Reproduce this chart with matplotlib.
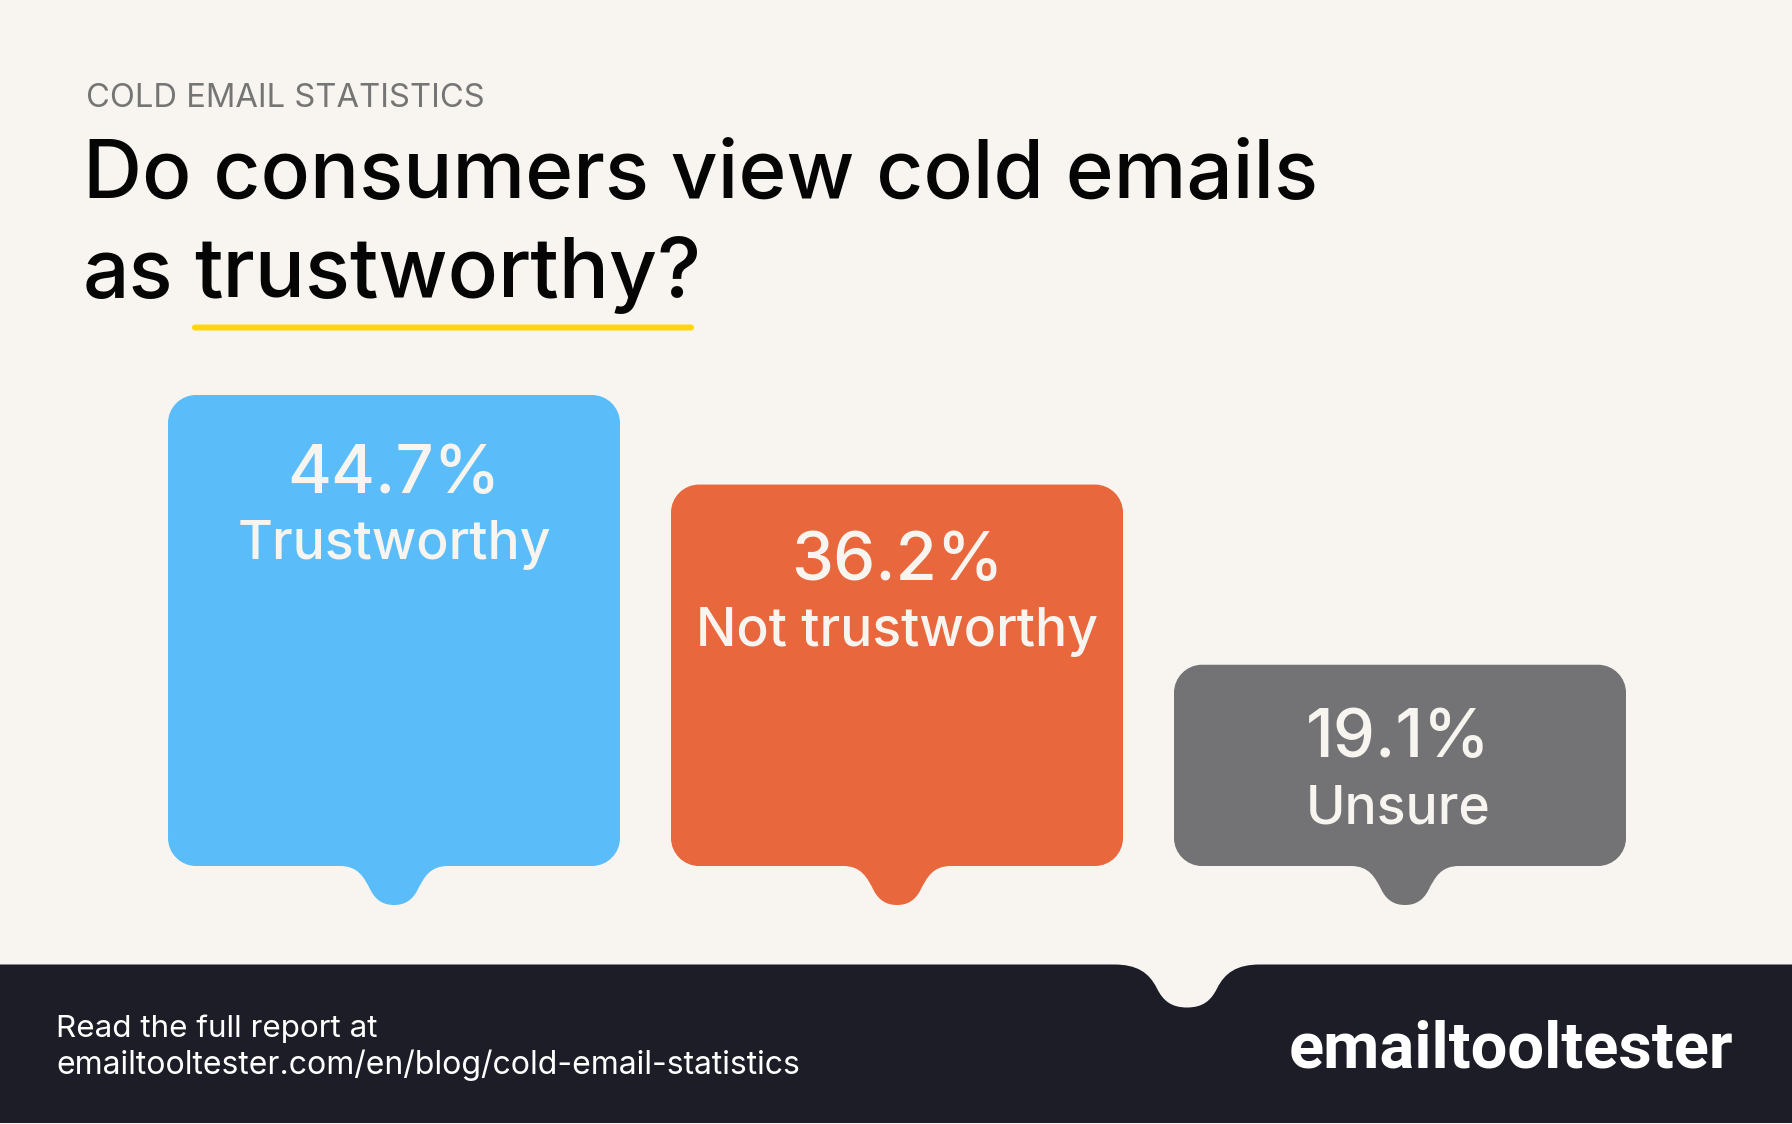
#!/usr/bin/env python3
import matplotlib
matplotlib.use("Agg")
import matplotlib.pyplot as plt
from matplotlib.patches import PathPatch, FancyBboxPatch
from matplotlib.path import Path

# ── DATA ──────────────────────────────────────────────────────────────────────
categories = ["Trustworthy", "Not trustworthy", "Unsure"]
values = [44.7, 36.2, 19.1]
value_labels = ["44.7%", "36.2%", "19.1%"]
bar_colors = ["#5ABDF9", "#E9673D", "#737375"]
tab_shift_px = [0, 0, 5]     # third tab sits a little right of centre

kicker = "COLD EMAIL STATISTICS"
title_line1 = "Do consumers view cold emails"
title_line2_a = "as"
title_line2_b = "trustworthy?"
footer_line1 = "Read the full report at"
footer_line2 = "emailtooltester.com/en/blog/cold-email-statistics"
logo_text = "emailtooltester"

# ── LAYOUT (pixels) ───────────────────────────────────────────────────────────
W, H = 1792, 1124
BG = "#F8F5F0"
DARK = "#1C1D27"
FONT = "Inter"

PX_PER_UNIT = 471 / 44.7
BASE_Y = 866
PITCH = 503
BAR_W = 452
FIRST_X = 394
# label baselines below each bar top, and small horizontal nudge
value_drop = [98, 95, 92]
name_drop = [164, 161, 159]
label_nudge = [0, 0, -2]


def pt(px):
    return px * 0.72


def bar_path(x, value, sx, sy, shift):
    """Rounded bar with a small drip below the baseline, in data units."""
    hw = BAR_W / 2 * sx
    r_x, r_y = 28 * sx, 28 * sy
    k = 0.45
    c = x + shift * sx
    verts = [(x - hw, r_y), (x - hw, value - r_y)]
    codes = [Path.MOVETO, Path.LINETO]
    verts += [(x - hw, value - r_y * k), (x - hw + r_x * k, value), (x - hw + r_x, value)]
    codes += [Path.CURVE4] * 3
    verts += [(x + hw - r_x, value)]
    codes += [Path.LINETO]
    verts += [(x + hw - r_x * k, value), (x + hw, value - r_y * k), (x + hw, value - r_y)]
    codes += [Path.CURVE4] * 3
    verts += [(x + hw, r_y)]
    codes += [Path.LINETO]
    verts += [(x + hw, r_y * k), (x + hw - r_x * k, 0), (x + hw - r_x, 0)]
    codes += [Path.CURVE4] * 3
    # drip, right to left
    drip = [(54, 0), (36, 0), (30, 11), (23, 25), (18, 34), (11, 39), (0, 39),
            (-11, 39), (-18, 34), (-23, 25), (-30, 11), (-36, 0), (-54, 0)]
    verts += [(c + drip[0][0] * sx, 0)]
    codes += [Path.LINETO]
    for dx, dy in drip[1:]:
        verts.append((c + dx * sx, -dy * sy))
        codes.append(Path.CURVE4)
    verts += [(x - hw + r_x, 0)]
    codes += [Path.LINETO]
    verts += [(x - hw + r_x * k, 0), (x - hw, r_y * k), (x - hw, r_y)]
    codes += [Path.CURVE4] * 3
    verts += [(x - hw, r_y)]
    codes += [Path.CLOSEPOLY]
    return Path(verts, codes)


def footer_path():
    top, bottom = 964.5, 1123
    c = 1187
    notch = [(-73, 0), (-50, 0), (-38, 8), (-30, 24), (-24, 36), (-16, 43), (0, 43),
             (16, 43), (24, 36), (30, 24), (38, 8), (50, 0), (73, 0)]
    verts = [(0, top), (c + notch[0][0], top)]
    codes = [Path.MOVETO, Path.LINETO]
    for dx, dy in notch[1:]:
        verts.append((c + dx, top + dy))
        codes.append(Path.CURVE4)
    verts += [(W, top), (W, bottom), (0, bottom), (0, top)]
    codes += [Path.LINETO, Path.LINETO, Path.LINETO, Path.CLOSEPOLY]
    return Path(verts, codes)


plt.rcParams["font.family"] = [FONT, "DejaVu Sans"]
fig = plt.figure(figsize=(W / 100, H / 100), dpi=100, facecolor=BG)

# page axes in pixel coordinates for headline and footer
page = fig.add_axes([0, 0, 1, 1])
page.set_xlim(0, W)
page.set_ylim(H, 0)
page.axis("off")

page.text(86, 107, kicker, fontsize=pt(32.7), color="#757575", va="baseline")
page.text(83, 198, title_line1, fontsize=pt(81.8), color="#050505", va="baseline", fontweight="medium")
page.text(83, 297, title_line2_a, fontsize=pt(81.8), color="#050505", va="baseline", fontweight="medium")
page.text(194, 297, title_line2_b, fontsize=pt(83.5), color="#050505", va="baseline", fontweight="medium")
page.add_patch(FancyBboxPatch((192, 324.5), 502, 6, boxstyle="round,pad=0,rounding_size=3",
                              fc="#FFD60A", ec="none"))

page.add_patch(PathPatch(footer_path(), fc=DARK, ec="none"))
page.text(56, 1037, footer_line1, fontsize=pt(31.4), color="white", va="baseline")
page.text(56, 1074, footer_line2, fontsize=pt(32), color="white", va="baseline")
page.text(1733, 1067, logo_text, fontsize=pt(65), color="white", va="baseline", ha="right",
          fontweight="semibold", family=["Roboto", "DejaVu Sans"])

# bar axes: x in category positions, y in percent
x_left = FIRST_X - PITCH / 2
y_max = 50
ax = fig.add_axes([x_left / W, (H - BASE_Y) / H, 3 * PITCH / W, y_max * PX_PER_UNIT / H])
ax.set_xlim(-0.5, 2.5)
ax.set_ylim(0, y_max)
ax.axis("off")
sx = 1 / PITCH
sy = 1 / PX_PER_UNIT

for i, (name, val, lab, col, sh) in enumerate(zip(categories, values, value_labels, bar_colors, tab_shift_px)):
    ax.add_patch(PathPatch(bar_path(i, val, sx, sy, sh), fc=col, ec="none", clip_on=False))
    ax.annotate(lab, (i, val), xytext=(pt(label_nudge[i]), -pt(value_drop[i])), textcoords="offset points",
                ha="center", va="baseline", fontsize=pt(67), color=BG, fontweight="medium")
    ax.annotate(name, (i, val), xytext=(pt(label_nudge[i]), -pt(name_drop[i])), textcoords="offset points",
                ha="center", va="baseline", fontsize=pt(53.5), color=BG, fontweight="medium")

fig.savefig("out.png", dpi=100, facecolor=BG)
